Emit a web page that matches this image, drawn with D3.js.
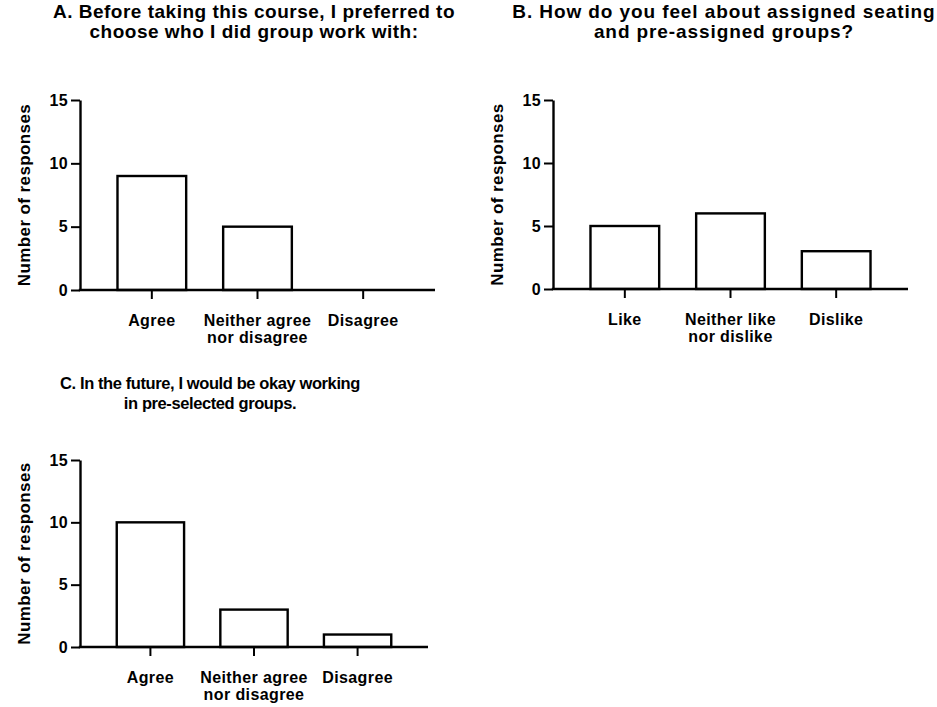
<!DOCTYPE html>
<html>
<head>
<meta charset="utf-8">
<script src="https://cdn.jsdelivr.net/npm/d3@7"></script>
<style>
  html, body { margin: 0; padding: 0; background: #fff; }
  svg { display: block; }
  text { font-family: "Liberation Sans", Arial, sans-serif; font-weight: bold; fill: #000; }
</style>
</head>
<body>
<svg id="chart" width="937" height="707"></svg>
<script>
// ---- Data ----
const titleA = ["A. Before taking this course, I preferred to", "choose who I did group work with:"];
const categoriesA = [["Agree"], ["Neither agree", "nor disagree"], ["Disagree"]];
const valuesA = [9, 5, 0];

const titleB = ["B. How do you feel about assigned seating", "and pre-assigned groups?"];
const categoriesB = [["Like"], ["Neither like", "nor dislike"], ["Dislike"]];
const valuesB = [5, 6, 3];

const titleC = ["C. In the future, I would be okay working", "in pre-selected groups."];
const categoriesC = [["Agree"], ["Neither agree", "nor disagree"], ["Disagree"]];
const valuesC = [10, 3, 1];

const yTicks = [0, 5, 10, 15];
const yLabel = "Number of responses";

// ---- Drawing ----
const svg = d3.select("#chart");
const FONT = '"Liberation Sans", Arial, sans-serif';

function panel(frame, title, cats, vals) {
  const {left, right, top, bottom, titleX, titleY, titleSize, titleLs, titleGap} = frame;
  const g = svg.append("g");
  const w = right - left;
  const y = d3.scaleLinear().domain([0, 15]).range([bottom, top]);
  const keys = cats.map(c => c.join(" "));
  const x = d3.scaleBand().domain(keys)
    .range([left + 0.0535 * w, right - 0.0535 * w])
    .paddingInner(0.35).paddingOuter(0.175);

  // bars
  g.selectAll("rect.bar").data(vals).join("rect")
    .attr("class", "bar")
    .attr("x", (d, i) => x(keys[i]))
    .attr("width", x.bandwidth())
    .attr("y", d => y(d))
    .attr("height", d => y(0) - y(d))
    .attr("fill", "#fff")
    .attr("stroke", d => d > 0 ? "#000" : "none")
    .attr("stroke-width", 2.4);

  // y axis
  const yAxis = d3.axisLeft(y).tickValues(yTicks).tickSize(9).tickPadding(3).tickSizeOuter(0);
  const ya = g.append("g").attr("transform", `translate(${left},0)`).call(yAxis);
  ya.select(".domain").attr("stroke-width", 2.4).attr("stroke", "#000");
  ya.selectAll(".tick line").attr("stroke-width", 2).attr("stroke", "#000");
  ya.selectAll(".tick text").attr("font-size", 16).attr("letter-spacing", "0.3px")
    .attr("font-family", FONT).attr("font-weight", "bold").attr("fill", "#000");

  // x axis line
  g.append("line").attr("x1", left - 1.2).attr("x2", right).attr("y1", bottom).attr("y2", bottom)
    .attr("stroke", "#000").attr("stroke-width", 2.4);
  // x ticks
  g.selectAll("line.xt").data(keys).join("line").attr("class", "xt")
    .attr("x1", d => x(d) + x.bandwidth() / 2).attr("x2", d => x(d) + x.bandwidth() / 2)
    .attr("y1", bottom).attr("y2", bottom + 9)
    .attr("stroke", "#000").attr("stroke-width", 2);
  // x labels
  cats.forEach((lines, i) => {
    const cx = x(keys[i]) + x.bandwidth() / 2;
    const t = g.append("text")
      .attr("x", cx)
      .attr("y", bottom + 36)
      .attr("text-anchor", "middle")
      .attr("font-size", 16).attr("letter-spacing", "0.4px");
    lines.forEach((l, j) => t.append("tspan").attr("x", cx)
      .attr("dy", j === 0 ? 0 : 17).text(l));
  });

  // y label
  g.append("text")
    .attr("transform", `translate(${left - 50},${(top + bottom) / 2}) rotate(-90)`)
    .attr("text-anchor", "middle")
    .attr("font-size", 17).attr("letter-spacing", "0.4px")
    .text(yLabel);

  // title
  const tt = g.append("text").attr("x", titleX).attr("y", titleY)
    .attr("text-anchor", "middle").attr("font-size", titleSize).attr("letter-spacing", titleLs + "px");
  title.forEach((l, j) => tt.append("tspan").attr("x", titleX).attr("dy", j === 0 ? 0 : titleGap).text(l));
}

panel({left: 80, right: 435, top: 100, bottom: 290, titleX: 254, titleY: 18, titleSize: 19, titleLs: 0.5, titleGap: 19.5},
      titleA, categoriesA, valuesA);
panel({left: 553, right: 908, top: 100, bottom: 289, titleX: 724, titleY: 18, titleSize: 19, titleLs: 0.9, titleGap: 19.5},
      titleB, categoriesB, valuesB);
panel({left: 80, right: 428, top: 460, bottom: 647, titleX: 210, titleY: 389, titleSize: 16.5, titleLs: -0.4, titleGap: 19.5},
      titleC, categoriesC, valuesC);
</script>
</body>
</html>
